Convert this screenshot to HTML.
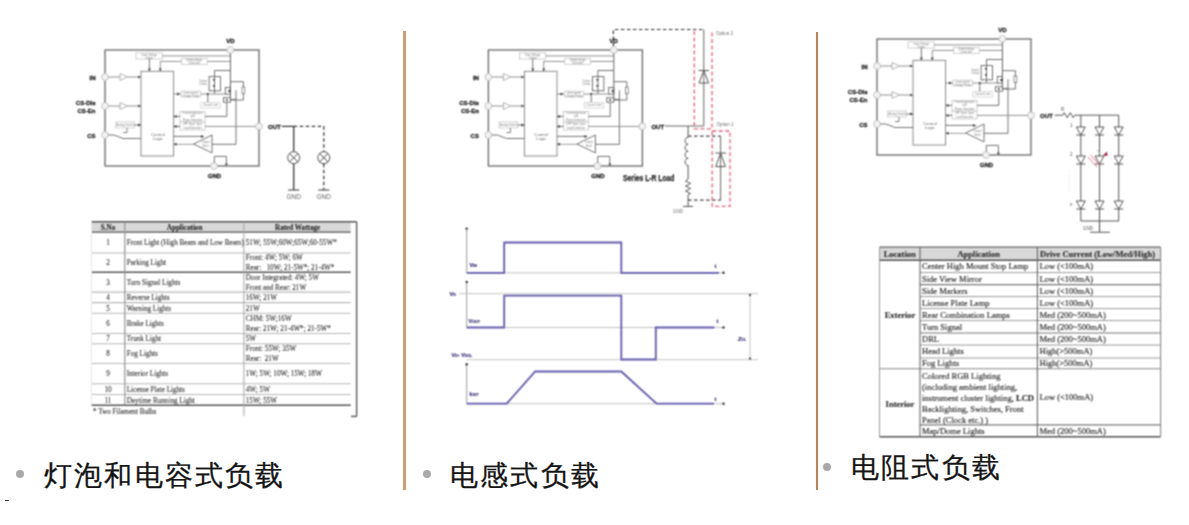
<!DOCTYPE html><html><head><meta charset="utf-8"><style>html,body{margin:0;padding:0;background:#fff;width:1189px;height:525px;overflow:hidden}.cap{position:absolute;font-family:'Liberation Sans', sans-serif;font-size:27.6px;letter-spacing:2.2px;color:#151515;white-space:nowrap;line-height:1;-webkit-text-stroke:0.3px #151515}.dot{position:absolute;width:8px;height:8px;border-radius:50%;background:#a9a9a9}.sep{position:absolute;background:#d29c6c}</style></head><body>
<svg width="1189" height="525" viewBox="0 0 1189 525" style="position:absolute;left:0;top:0">
<defs><filter id="soft" x="0" y="0" width="1189" height="525" filterUnits="userSpaceOnUse" color-interpolation-filters="sRGB"><feConvolveMatrix order="3" kernelMatrix="1 2 1 2 4 2 1 2 1" divisor="16" edgeMode="none"/></filter></defs><g filter="url(#soft)"><rect width="1189" height="525" fill="#fff"/>
<g transform="translate(105,50)"><rect x="0" y="0" width="154" height="116" fill="none" stroke="#6c6c6c" stroke-width="1.35"/><circle cx="125.4" cy="0" r="3.4" fill="#f3f3f3" stroke="#bdbdbd" stroke-width="0.9"/><circle cx="0" cy="27" r="3.4" fill="#f3f3f3" stroke="#bdbdbd" stroke-width="0.9"/><circle cx="0" cy="56" r="3.4" fill="#f3f3f3" stroke="#bdbdbd" stroke-width="0.9"/><circle cx="0" cy="85" r="3.4" fill="#f3f3f3" stroke="#bdbdbd" stroke-width="0.9"/><circle cx="154" cy="76.4" r="3.4" fill="#f3f3f3" stroke="#bdbdbd" stroke-width="0.9"/><circle cx="109" cy="116" r="3.4" fill="#f3f3f3" stroke="#bdbdbd" stroke-width="0.9"/><g font-family="'Liberation Sans', sans-serif" font-weight="bold" font-size="6" fill="#222" stroke="#222" stroke-width="0.3"><text x="125.4" y="-7" text-anchor="middle">VD</text><text x="-9.5" y="29.5" text-anchor="end">IN</text><text x="-9.5" y="55" text-anchor="end">CS-Dis</text><text x="-9.5" y="63" text-anchor="end">CS-En</text><text x="-9.5" y="88" text-anchor="end">CS</text><text x="163" y="78.6">OUT</text><text x="109.5" y="128" text-anchor="middle">GND</text></g><line x1="3.3" y1="27" x2="15" y2="27" stroke="#858585" stroke-width="0.9"/><line x1="22.5" y1="27" x2="36" y2="27" stroke="#858585" stroke-width="0.9"/><path d="M15 23.6 L22.5 27 L15 30.4 Z" fill="#fff" stroke="#a0a0a0" stroke-width="0.8"/><path d="M33 25.5 L36 27 L33 28.5 Z" fill="#555"/><line x1="3.3" y1="56" x2="15" y2="56" stroke="#858585" stroke-width="0.9"/><line x1="22.5" y1="56" x2="36" y2="56" stroke="#858585" stroke-width="0.9"/><path d="M15 52.6 L22.5 56 L15 59.4 Z" fill="#fff" stroke="#a0a0a0" stroke-width="0.8"/><path d="M33 54.5 L36 56 L33 57.5 Z" fill="#555"/><rect x="36" y="21.3" width="32.6" height="84.7" fill="#fff" stroke="#858585" stroke-width="0.95"/><g font-family="'Liberation Sans', sans-serif" font-size="4.3" fill="#707070" text-anchor="middle"><text x="52.9" y="85.5">Control</text><text x="52.9" y="90.3">Logic</text></g><rect x="31" y="2.8" width="26.3" height="6.2" fill="#fff" stroke="#c4c4c4" stroke-width="0.8"/><line x1="57.3" y1="5.9" x2="125.4" y2="5.9" stroke="#858585" stroke-width="0.9"/><line x1="44.4" y1="9" x2="44.4" y2="21.3" stroke="#656565" stroke-width="0.9"/><path d="M42.9 18.5 L44.4 21.3 L45.9 18.5Z" fill="#444"/><path d="M55.3 21.3 V11.4 H125.4" fill="none" stroke="#858585" stroke-width="0.9"/><path d="M53.8 18.5 L55.3 21.3 L56.8 18.5Z" fill="#444"/><rect x="76.4" y="8.6" width="25.8" height="5.7" fill="#fff" stroke="#c4c4c4" stroke-width="0.8"/><line x1="125.4" y1="3.3" x2="125.4" y2="50" stroke="#656565" stroke-width="1"/><path d="M125.4 20.5 H109.5 V44" fill="none" stroke="#656565" stroke-width="0.9"/><rect x="104.1" y="26.6" width="11.4" height="14.2" fill="none" stroke="#656565" stroke-width="0.9"/><path d="M107.5 29 L109 31.5 L110.5 29Z M107.5 35 L109 37.5 L110.5 35Z" fill="#555"/><line x1="68.6" y1="44" x2="120.3" y2="44" stroke="#858585" stroke-width="0.9"/><rect x="75.9" y="41.2" width="19.4" height="5.7" fill="#fff" stroke="#c4c4c4" stroke-width="0.8"/><path d="M72 42.5 L75 44 L72 45.5Z" fill="#444"/><line x1="102.8" y1="44" x2="102.8" y2="52.6" stroke="#656565" stroke-width="0.9"/><circle cx="102.8" cy="44" r="1.1" fill="#444"/><rect x="95.9" y="52.6" width="19.4" height="5.4" fill="#fff" stroke="#d0d0d0" stroke-width="0.8"/><path d="M125.4 31.7 H138.4 V50 H125.4" fill="none" stroke="#656565" stroke-width="0.9"/><rect x="137" y="37" width="2.8" height="6.5" fill="#fff" stroke="#656565" stroke-width="0.7"/><rect x="120.3" y="37.4" width="5.1" height="6.8" fill="none" stroke="#656565" stroke-width="0.9"/><circle cx="124.4" cy="41" r="1.2" fill="#444"/><rect x="118.4" y="47.7" width="7" height="4.5" fill="#fff" stroke="#656565" stroke-width="0.9"/><circle cx="121.8" cy="50" r="1" fill="#444"/><path d="M131 40.3 V94.3 M125.4 49.4 H131" fill="none" stroke="#656565" stroke-width="0.9"/><rect x="75" y="61.4" width="25" height="10.6" fill="#fff" stroke="#c4c4c4" stroke-width="0.8"/><rect x="75" y="72" width="25" height="8" fill="#fff" stroke="#c4c4c4" stroke-width="0.8"/><path d="M100 66.4 H121.8 V52.2" fill="none" stroke="#656565" stroke-width="0.9"/><line x1="100" y1="76.4" x2="150.7" y2="76.4" stroke="#858585" stroke-width="0.9"/><line x1="68.6" y1="66.4" x2="75" y2="66.4" stroke="#656565" stroke-width="0.9"/><line x1="68.6" y1="76.4" x2="75" y2="76.4" stroke="#656565" stroke-width="0.9"/><path d="M71.6 64.9 L68.6 66.4 L71.6 67.9Z M71.6 74.9 L68.6 76.4 L71.6 77.9Z" fill="#444"/><path d="M107 85 V102.9 L88.6 94 Z" fill="#fff" stroke="#656565" stroke-width="0.9"/><path d="M131 94.3 H107" fill="none" stroke="#656565" stroke-width="0.9"/><path d="M68.6 86.4 H99" fill="none" stroke="#656565" stroke-width="0.9"/><path d="M96 84.9 L99 86.4 L96 87.9Z" fill="#444"/><path d="M68.6 94.3 H88.6" fill="none" stroke="#858585" stroke-width="0.8"/><path d="M71.6 92.8 L68.6 94.3 L71.6 95.8Z" fill="#444"/><path d="M109.3 112.7 V106.4 H121.4 V116" fill="none" stroke="#656565" stroke-width="0.9"/><path d="M119.9 113.5 L121.4 116 L122.9 113.5Z" fill="#444"/><rect x="10.7" y="72" width="18.6" height="5.9" fill="#fff" stroke="#c4c4c4" stroke-width="0.8"/><line x1="29.3" y1="75" x2="36" y2="75" stroke="#656565" stroke-width="0.9"/><path d="M33 73.5 L36 75 L33 76.5Z" fill="#444"/><path d="M22 77.9 V82.5 H18" fill="none" stroke="#656565" stroke-width="0.8"/><path d="M3.3 85 H9 L18 88.5 H36" fill="none" stroke="#656565" stroke-width="0.9"/><g font-family="'Liberation Sans', sans-serif" font-size="2.7" fill="#858585" text-anchor="middle"><text x="44.2" y="5.7">Gate Voltage</text><text x="44.2" y="8.5">Clamp</text><text x="89.3" y="11.2">Undervoltage</text><text x="89.3" y="13.9">Detection</text><text x="98" y="32.4">Output</text><text x="98" y="35.4">Clamp</text><text x="85.6" y="43.9">Overcurrent</text><text x="85.6" y="46.6">Charge Pump</text><text x="105.6" y="56.3">Current Limit</text><text x="87.5" y="64.2">Overtemperature</text><text x="87.5" y="67.3">and</text><text x="87.5" y="70.8">Power Detection</text><text x="87.5" y="75.4">OFF State Open</text><text x="87.5" y="78.9">Load Detection</text><text x="100.5" y="93.3">Output</text><text x="100.5" y="96.6">Short</text><text x="20" y="75.8">Analog Switch</text></g></g>
<g transform="translate(488.4,50)"><rect x="0" y="0" width="154" height="116" fill="none" stroke="#6c6c6c" stroke-width="1.35"/><circle cx="125.4" cy="0" r="3.4" fill="#f3f3f3" stroke="#bdbdbd" stroke-width="0.9"/><circle cx="0" cy="27" r="3.4" fill="#f3f3f3" stroke="#bdbdbd" stroke-width="0.9"/><circle cx="0" cy="56" r="3.4" fill="#f3f3f3" stroke="#bdbdbd" stroke-width="0.9"/><circle cx="0" cy="85" r="3.4" fill="#f3f3f3" stroke="#bdbdbd" stroke-width="0.9"/><circle cx="154" cy="76.4" r="3.4" fill="#f3f3f3" stroke="#bdbdbd" stroke-width="0.9"/><circle cx="109" cy="116" r="3.4" fill="#f3f3f3" stroke="#bdbdbd" stroke-width="0.9"/><g font-family="'Liberation Sans', sans-serif" font-weight="bold" font-size="6" fill="#222" stroke="#222" stroke-width="0.3"><text x="125.4" y="-7" text-anchor="middle">VD</text><text x="-9.5" y="29.5" text-anchor="end">IN</text><text x="-9.5" y="55" text-anchor="end">CS-Dis</text><text x="-9.5" y="63" text-anchor="end">CS-En</text><text x="-9.5" y="88" text-anchor="end">CS</text><text x="163" y="78.6">OUT</text><text x="109.5" y="128" text-anchor="middle">GND</text></g><line x1="3.3" y1="27" x2="15" y2="27" stroke="#858585" stroke-width="0.9"/><line x1="22.5" y1="27" x2="36" y2="27" stroke="#858585" stroke-width="0.9"/><path d="M15 23.6 L22.5 27 L15 30.4 Z" fill="#fff" stroke="#a0a0a0" stroke-width="0.8"/><path d="M33 25.5 L36 27 L33 28.5 Z" fill="#555"/><line x1="3.3" y1="56" x2="15" y2="56" stroke="#858585" stroke-width="0.9"/><line x1="22.5" y1="56" x2="36" y2="56" stroke="#858585" stroke-width="0.9"/><path d="M15 52.6 L22.5 56 L15 59.4 Z" fill="#fff" stroke="#a0a0a0" stroke-width="0.8"/><path d="M33 54.5 L36 56 L33 57.5 Z" fill="#555"/><rect x="36" y="21.3" width="32.6" height="84.7" fill="#fff" stroke="#858585" stroke-width="0.95"/><g font-family="'Liberation Sans', sans-serif" font-size="4.3" fill="#707070" text-anchor="middle"><text x="52.9" y="85.5">Control</text><text x="52.9" y="90.3">Logic</text></g><rect x="31" y="2.8" width="26.3" height="6.2" fill="#fff" stroke="#c4c4c4" stroke-width="0.8"/><line x1="57.3" y1="5.9" x2="125.4" y2="5.9" stroke="#858585" stroke-width="0.9"/><line x1="44.4" y1="9" x2="44.4" y2="21.3" stroke="#656565" stroke-width="0.9"/><path d="M42.9 18.5 L44.4 21.3 L45.9 18.5Z" fill="#444"/><path d="M55.3 21.3 V11.4 H125.4" fill="none" stroke="#858585" stroke-width="0.9"/><path d="M53.8 18.5 L55.3 21.3 L56.8 18.5Z" fill="#444"/><rect x="76.4" y="8.6" width="25.8" height="5.7" fill="#fff" stroke="#c4c4c4" stroke-width="0.8"/><line x1="125.4" y1="3.3" x2="125.4" y2="50" stroke="#656565" stroke-width="1"/><path d="M125.4 20.5 H109.5 V44" fill="none" stroke="#656565" stroke-width="0.9"/><rect x="104.1" y="26.6" width="11.4" height="14.2" fill="none" stroke="#656565" stroke-width="0.9"/><path d="M107.5 29 L109 31.5 L110.5 29Z M107.5 35 L109 37.5 L110.5 35Z" fill="#555"/><line x1="68.6" y1="44" x2="120.3" y2="44" stroke="#858585" stroke-width="0.9"/><rect x="75.9" y="41.2" width="19.4" height="5.7" fill="#fff" stroke="#c4c4c4" stroke-width="0.8"/><path d="M72 42.5 L75 44 L72 45.5Z" fill="#444"/><line x1="102.8" y1="44" x2="102.8" y2="52.6" stroke="#656565" stroke-width="0.9"/><circle cx="102.8" cy="44" r="1.1" fill="#444"/><rect x="95.9" y="52.6" width="19.4" height="5.4" fill="#fff" stroke="#d0d0d0" stroke-width="0.8"/><path d="M125.4 31.7 H138.4 V50 H125.4" fill="none" stroke="#656565" stroke-width="0.9"/><rect x="137" y="37" width="2.8" height="6.5" fill="#fff" stroke="#656565" stroke-width="0.7"/><rect x="120.3" y="37.4" width="5.1" height="6.8" fill="none" stroke="#656565" stroke-width="0.9"/><circle cx="124.4" cy="41" r="1.2" fill="#444"/><rect x="118.4" y="47.7" width="7" height="4.5" fill="#fff" stroke="#656565" stroke-width="0.9"/><circle cx="121.8" cy="50" r="1" fill="#444"/><path d="M131 40.3 V94.3 M125.4 49.4 H131" fill="none" stroke="#656565" stroke-width="0.9"/><rect x="75" y="61.4" width="25" height="10.6" fill="#fff" stroke="#c4c4c4" stroke-width="0.8"/><rect x="75" y="72" width="25" height="8" fill="#fff" stroke="#c4c4c4" stroke-width="0.8"/><path d="M100 66.4 H121.8 V52.2" fill="none" stroke="#656565" stroke-width="0.9"/><line x1="100" y1="76.4" x2="150.7" y2="76.4" stroke="#858585" stroke-width="0.9"/><line x1="68.6" y1="66.4" x2="75" y2="66.4" stroke="#656565" stroke-width="0.9"/><line x1="68.6" y1="76.4" x2="75" y2="76.4" stroke="#656565" stroke-width="0.9"/><path d="M71.6 64.9 L68.6 66.4 L71.6 67.9Z M71.6 74.9 L68.6 76.4 L71.6 77.9Z" fill="#444"/><path d="M107 85 V102.9 L88.6 94 Z" fill="#fff" stroke="#656565" stroke-width="0.9"/><path d="M131 94.3 H107" fill="none" stroke="#656565" stroke-width="0.9"/><path d="M68.6 86.4 H99" fill="none" stroke="#656565" stroke-width="0.9"/><path d="M96 84.9 L99 86.4 L96 87.9Z" fill="#444"/><path d="M68.6 94.3 H88.6" fill="none" stroke="#858585" stroke-width="0.8"/><path d="M71.6 92.8 L68.6 94.3 L71.6 95.8Z" fill="#444"/><path d="M109.3 112.7 V106.4 H121.4 V116" fill="none" stroke="#656565" stroke-width="0.9"/><path d="M119.9 113.5 L121.4 116 L122.9 113.5Z" fill="#444"/><rect x="10.7" y="72" width="18.6" height="5.9" fill="#fff" stroke="#c4c4c4" stroke-width="0.8"/><line x1="29.3" y1="75" x2="36" y2="75" stroke="#656565" stroke-width="0.9"/><path d="M33 73.5 L36 75 L33 76.5Z" fill="#444"/><path d="M22 77.9 V82.5 H18" fill="none" stroke="#656565" stroke-width="0.8"/><path d="M3.3 85 H9 L18 88.5 H36" fill="none" stroke="#656565" stroke-width="0.9"/><g font-family="'Liberation Sans', sans-serif" font-size="2.7" fill="#858585" text-anchor="middle"><text x="44.2" y="5.7">Gate Voltage</text><text x="44.2" y="8.5">Clamp</text><text x="89.3" y="11.2">Undervoltage</text><text x="89.3" y="13.9">Detection</text><text x="98" y="32.4">Output</text><text x="98" y="35.4">Clamp</text><text x="85.6" y="43.9">Overcurrent</text><text x="85.6" y="46.6">Charge Pump</text><text x="105.6" y="56.3">Current Limit</text><text x="87.5" y="64.2">Overtemperature</text><text x="87.5" y="67.3">and</text><text x="87.5" y="70.8">Power Detection</text><text x="87.5" y="75.4">OFF State Open</text><text x="87.5" y="78.9">Load Detection</text><text x="100.5" y="93.3">Output</text><text x="100.5" y="96.6">Short</text><text x="20" y="75.8">Analog Switch</text></g></g>
<g transform="translate(877,39)"><rect x="0" y="0" width="154" height="116" fill="none" stroke="#6c6c6c" stroke-width="1.35"/><circle cx="125.4" cy="0" r="3.4" fill="#f3f3f3" stroke="#bdbdbd" stroke-width="0.9"/><circle cx="0" cy="27" r="3.4" fill="#f3f3f3" stroke="#bdbdbd" stroke-width="0.9"/><circle cx="0" cy="56" r="3.4" fill="#f3f3f3" stroke="#bdbdbd" stroke-width="0.9"/><circle cx="0" cy="85" r="3.4" fill="#f3f3f3" stroke="#bdbdbd" stroke-width="0.9"/><circle cx="154" cy="76.4" r="3.4" fill="#f3f3f3" stroke="#bdbdbd" stroke-width="0.9"/><circle cx="109" cy="116" r="3.4" fill="#f3f3f3" stroke="#bdbdbd" stroke-width="0.9"/><g font-family="'Liberation Sans', sans-serif" font-weight="bold" font-size="6" fill="#222" stroke="#222" stroke-width="0.3"><text x="125.4" y="-7" text-anchor="middle">VD</text><text x="-9.5" y="29.5" text-anchor="end">IN</text><text x="-9.5" y="55" text-anchor="end">CS-Dis</text><text x="-9.5" y="63" text-anchor="end">CS-En</text><text x="-9.5" y="88" text-anchor="end">CS</text><text x="163" y="78.6">OUT</text><text x="109.5" y="128" text-anchor="middle">GND</text></g><line x1="3.3" y1="27" x2="15" y2="27" stroke="#858585" stroke-width="0.9"/><line x1="22.5" y1="27" x2="36" y2="27" stroke="#858585" stroke-width="0.9"/><path d="M15 23.6 L22.5 27 L15 30.4 Z" fill="#fff" stroke="#a0a0a0" stroke-width="0.8"/><path d="M33 25.5 L36 27 L33 28.5 Z" fill="#555"/><line x1="3.3" y1="56" x2="15" y2="56" stroke="#858585" stroke-width="0.9"/><line x1="22.5" y1="56" x2="36" y2="56" stroke="#858585" stroke-width="0.9"/><path d="M15 52.6 L22.5 56 L15 59.4 Z" fill="#fff" stroke="#a0a0a0" stroke-width="0.8"/><path d="M33 54.5 L36 56 L33 57.5 Z" fill="#555"/><rect x="36" y="21.3" width="32.6" height="84.7" fill="#fff" stroke="#858585" stroke-width="0.95"/><g font-family="'Liberation Sans', sans-serif" font-size="4.3" fill="#707070" text-anchor="middle"><text x="52.9" y="85.5">Control</text><text x="52.9" y="90.3">Logic</text></g><rect x="31" y="2.8" width="26.3" height="6.2" fill="#fff" stroke="#c4c4c4" stroke-width="0.8"/><line x1="57.3" y1="5.9" x2="125.4" y2="5.9" stroke="#858585" stroke-width="0.9"/><line x1="44.4" y1="9" x2="44.4" y2="21.3" stroke="#656565" stroke-width="0.9"/><path d="M42.9 18.5 L44.4 21.3 L45.9 18.5Z" fill="#444"/><path d="M55.3 21.3 V11.4 H125.4" fill="none" stroke="#858585" stroke-width="0.9"/><path d="M53.8 18.5 L55.3 21.3 L56.8 18.5Z" fill="#444"/><rect x="76.4" y="8.6" width="25.8" height="5.7" fill="#fff" stroke="#c4c4c4" stroke-width="0.8"/><line x1="125.4" y1="3.3" x2="125.4" y2="50" stroke="#656565" stroke-width="1"/><path d="M125.4 20.5 H109.5 V44" fill="none" stroke="#656565" stroke-width="0.9"/><rect x="104.1" y="26.6" width="11.4" height="14.2" fill="none" stroke="#656565" stroke-width="0.9"/><path d="M107.5 29 L109 31.5 L110.5 29Z M107.5 35 L109 37.5 L110.5 35Z" fill="#555"/><line x1="68.6" y1="44" x2="120.3" y2="44" stroke="#858585" stroke-width="0.9"/><rect x="75.9" y="41.2" width="19.4" height="5.7" fill="#fff" stroke="#c4c4c4" stroke-width="0.8"/><path d="M72 42.5 L75 44 L72 45.5Z" fill="#444"/><line x1="102.8" y1="44" x2="102.8" y2="52.6" stroke="#656565" stroke-width="0.9"/><circle cx="102.8" cy="44" r="1.1" fill="#444"/><rect x="95.9" y="52.6" width="19.4" height="5.4" fill="#fff" stroke="#d0d0d0" stroke-width="0.8"/><path d="M125.4 31.7 H138.4 V50 H125.4" fill="none" stroke="#656565" stroke-width="0.9"/><rect x="137" y="37" width="2.8" height="6.5" fill="#fff" stroke="#656565" stroke-width="0.7"/><rect x="120.3" y="37.4" width="5.1" height="6.8" fill="none" stroke="#656565" stroke-width="0.9"/><circle cx="124.4" cy="41" r="1.2" fill="#444"/><rect x="118.4" y="47.7" width="7" height="4.5" fill="#fff" stroke="#656565" stroke-width="0.9"/><circle cx="121.8" cy="50" r="1" fill="#444"/><path d="M131 40.3 V94.3 M125.4 49.4 H131" fill="none" stroke="#656565" stroke-width="0.9"/><rect x="75" y="61.4" width="25" height="10.6" fill="#fff" stroke="#c4c4c4" stroke-width="0.8"/><rect x="75" y="72" width="25" height="8" fill="#fff" stroke="#c4c4c4" stroke-width="0.8"/><path d="M100 66.4 H121.8 V52.2" fill="none" stroke="#656565" stroke-width="0.9"/><line x1="100" y1="76.4" x2="150.7" y2="76.4" stroke="#858585" stroke-width="0.9"/><line x1="68.6" y1="66.4" x2="75" y2="66.4" stroke="#656565" stroke-width="0.9"/><line x1="68.6" y1="76.4" x2="75" y2="76.4" stroke="#656565" stroke-width="0.9"/><path d="M71.6 64.9 L68.6 66.4 L71.6 67.9Z M71.6 74.9 L68.6 76.4 L71.6 77.9Z" fill="#444"/><path d="M107 85 V102.9 L88.6 94 Z" fill="#fff" stroke="#656565" stroke-width="0.9"/><path d="M131 94.3 H107" fill="none" stroke="#656565" stroke-width="0.9"/><path d="M68.6 86.4 H99" fill="none" stroke="#656565" stroke-width="0.9"/><path d="M96 84.9 L99 86.4 L96 87.9Z" fill="#444"/><path d="M68.6 94.3 H88.6" fill="none" stroke="#858585" stroke-width="0.8"/><path d="M71.6 92.8 L68.6 94.3 L71.6 95.8Z" fill="#444"/><path d="M109.3 112.7 V106.4 H121.4 V116" fill="none" stroke="#656565" stroke-width="0.9"/><path d="M119.9 113.5 L121.4 116 L122.9 113.5Z" fill="#444"/><rect x="10.7" y="72" width="18.6" height="5.9" fill="#fff" stroke="#c4c4c4" stroke-width="0.8"/><line x1="29.3" y1="75" x2="36" y2="75" stroke="#656565" stroke-width="0.9"/><path d="M33 73.5 L36 75 L33 76.5Z" fill="#444"/><path d="M22 77.9 V82.5 H18" fill="none" stroke="#656565" stroke-width="0.8"/><path d="M3.3 85 H9 L18 88.5 H36" fill="none" stroke="#656565" stroke-width="0.9"/><g font-family="'Liberation Sans', sans-serif" font-size="2.7" fill="#858585" text-anchor="middle"><text x="44.2" y="5.7">Gate Voltage</text><text x="44.2" y="8.5">Clamp</text><text x="89.3" y="11.2">Undervoltage</text><text x="89.3" y="13.9">Detection</text><text x="98" y="32.4">Output</text><text x="98" y="35.4">Clamp</text><text x="85.6" y="43.9">Overcurrent</text><text x="85.6" y="46.6">Charge Pump</text><text x="105.6" y="56.3">Current Limit</text><text x="87.5" y="64.2">Overtemperature</text><text x="87.5" y="67.3">and</text><text x="87.5" y="70.8">Power Detection</text><text x="87.5" y="75.4">OFF State Open</text><text x="87.5" y="78.9">Load Detection</text><text x="100.5" y="93.3">Output</text><text x="100.5" y="96.6">Short</text><text x="20" y="75.8">Analog Switch</text></g></g>
<g stroke="#3a3a3a" stroke-width="1.3" fill="none">
<path d="M281.7 126.4 H293.7 V151.7 M293.7 163.7 V190"/>
<path d="M293.7 126.4 H323.8 V151.7 M323.8 163.7 V190" stroke-dasharray="3.5 2.5"/>
<circle cx="293.7" cy="157.7" r="6" stroke="#555" stroke-width="1"/>
<path d="M289.5 153.5 L297.9 161.9 M297.9 153.5 L289.5 161.9" stroke="#444" stroke-width="1"/>
<line x1="288.2" y1="190" x2="299.2" y2="190" stroke="#555" stroke-width="1.2"/>
<circle cx="323.8" cy="157.7" r="6" stroke="#555" stroke-width="1"/>
<path d="M319.6 153.5 L328.0 161.9 M328.0 153.5 L319.6 161.9" stroke="#444" stroke-width="1"/>
<line x1="318.3" y1="190" x2="329.3" y2="190" stroke="#555" stroke-width="1.2"/>
</g>
<g font-family="'Liberation Sans', sans-serif" font-size="6.5" fill="#666" text-anchor="middle"><text x="293.7" y="199">GND</text><text x="323.8" y="199">GND</text></g>
<g fill="none" stroke-width="1.2">
<path d="M613.4 46 V29.5 H703.8" stroke="#333" stroke-dasharray="3.5 2.5"/>
<path d="M703.8 29.5 V126 H665" stroke="#666" stroke-width="1"/>
<path d="M699 83 L703.8 70.5 L708.6 83 Z M698.5 70.5 H709" stroke="#555" stroke-width="1"/>
<path d="M694.3 31 V128.9 H712 V31" stroke="#e0607a" stroke-dasharray="4 2.5" stroke-width="1.3"/>
<path d="M688.1 126 V137.3" stroke="#555" stroke-width="1"/>
<path d="M688.1 137.3 c-4 0 -4 7 0 7 c-4 0 -4 7 0 7 c-4 0 -4 7 0 7 c-4 0 -4 7.2 0 7.2 V179 l-2.5 2 l5 2.5 l-5 2.5 l5 2.5 l-5 2.5 l5 2.5 l-2.5 1 V206.4" stroke="#555" stroke-width="1"/>
<path d="M683 206.4 H693" stroke="#555" stroke-width="1"/>
<path d="M688.1 136.2 H720.6 M688.1 200.1 H720.6" stroke="#444" stroke-dasharray="3.5 2.5"/>
<path d="M720.6 136.2 V200.1" stroke="#666" stroke-width="1"/>
<path d="M715.8 166.6 L720.6 153 L725.4 166.6 Z M715.3 153 H726" stroke="#555" stroke-width="1"/>
<rect x="712.2" y="131" width="17.8" height="75.4" stroke="#e0607a" stroke-dasharray="4 2.5" stroke-width="1.3"/>
</g>
<g font-family="'Liberation Sans', sans-serif" font-size="4.5" fill="#707070"><text x="716" y="35.2">Option 2</text><text x="716.4" y="125.6">Option 1</text><text x="673" y="212.5">GND</text></g>
<text x="623" y="180.8" font-family="'Liberation Sans', sans-serif" font-weight="bold" font-size="8.6" fill="#222" stroke="#222" stroke-width="0.25" textLength="51.5" lengthAdjust="spacingAndGlyphs">Series L-R Load</text>
<g fill="none" stroke="#555" stroke-width="1">
<path d="M1054.7 115.2 H1062.7 l1.5 -2.5 l3 5 l3 -5 l3 5 l1.5 -2.5 H1118.7"/>
<path d="M1080.8 115.2 V221"/>
<path d="M1076.3 127 L1080.8 135 L1085.3 127 Z M1076.3 135 H1085.3" fill="#fff"/>
<path d="M1076.3 156 L1080.8 164 L1085.3 156 Z M1076.3 164 H1085.3" fill="#fff"/>
<path d="M1076.3 201 L1080.8 209 L1085.3 201 Z M1076.3 209 H1085.3" fill="#fff"/>
<path d="M1099.5 115.2 V221"/>
<path d="M1095.0 127 L1099.5 135 L1104.0 127 Z M1095.0 135 H1104.0" fill="#fff"/>
<path d="M1095.0 156 L1099.5 164 L1104.0 156 Z M1095.0 164 H1104.0" fill="#fff"/>
<path d="M1095.0 201 L1099.5 209 L1104.0 201 Z M1095.0 209 H1104.0" fill="#fff"/>
<path d="M1118.7 115.2 V221"/>
<path d="M1114.2 127 L1118.7 135 L1123.2 127 Z M1114.2 135 H1123.2" fill="#fff"/>
<path d="M1114.2 156 L1118.7 164 L1123.2 156 Z M1114.2 164 H1123.2" fill="#fff"/>
<path d="M1114.2 201 L1118.7 209 L1123.2 201 Z M1114.2 209 H1123.2" fill="#fff"/>
<path d="M1080.8 221 H1118.7 M1099.5 221 V232.3 M1090.2 232.3 H1109.8" stroke-width="1.1"/>
<path d="M1069 170 V191" stroke="#ddd" stroke-dasharray="1 1.5"/>
</g>
<path d="M1088 157 L1097 167 M1090.5 155 L1099.5 165" stroke="#e27a90" stroke-width="1" fill="none"/>
<path d="M1097 150 L1100 153" stroke="#999" stroke-width="0.8" fill="none"/>
<path d="M1103 155.5 L1107 151.5 L1107.5 156Z" fill="#a02040"/>
<g font-family="'Liberation Sans', sans-serif" font-size="4.5" fill="#555"><text x="1070" y="127">1</text><text x="1070" y="156">2</text><text x="1070" y="206">n</text><text x="1061" y="111">R</text><text x="1083" y="229.5">GND</text></g>
<line x1="466.7" y1="228.6" x2="466.7" y2="272.8" stroke="#9c9c9c" stroke-width="1"/>
<circle cx="466.7" cy="228.6" r="1.2" fill="#333"/>
<line x1="466.7" y1="272.8" x2="723" y2="272.8" stroke="#c0c0c0" stroke-width="1"/>
<circle cx="723.5" cy="272.8" r="1.2" fill="#333"/>
<line x1="466.7" y1="281.9" x2="466.7" y2="327.5" stroke="#9c9c9c" stroke-width="1"/>
<circle cx="466.7" cy="281.9" r="1.2" fill="#333"/>
<line x1="466.7" y1="327.5" x2="723" y2="327.5" stroke="#c0c0c0" stroke-width="1"/>
<circle cx="723.5" cy="327.5" r="1.2" fill="#333"/>
<line x1="466.7" y1="364.3" x2="466.7" y2="403.7" stroke="#9c9c9c" stroke-width="1"/>
<circle cx="466.7" cy="364.3" r="1.2" fill="#333"/>
<line x1="466.7" y1="403.7" x2="723" y2="403.7" stroke="#c0c0c0" stroke-width="1"/>
<circle cx="723.5" cy="403.7" r="1.2" fill="#333"/>
<line x1="459" y1="293.7" x2="758" y2="293.7" stroke="#c4c4c4" stroke-width="1"/>
<line x1="466.7" y1="359.7" x2="758" y2="359.7" stroke="#c4c4c4" stroke-width="1"/>
<line x1="750" y1="294" x2="750" y2="359.5" stroke="#bdbdbd" stroke-width="0.9"/>
<circle cx="750" cy="295" r="1.1" fill="#333"/><circle cx="750" cy="358.5" r="1.1" fill="#333"/>
<g fill="none" stroke="#6159ab" stroke-width="1.8" stroke-linejoin="miter">
<polyline points="466.7,272.8 504.2,272.8 504.2,242.5 621.3,242.5 621.3,272.8 719,272.8"/>
<polyline points="466.7,327.5 504.2,327.5 504.2,295.6 621.3,295.6 621.3,359.5 655.8,359.5 655.8,327.5 714.3,327.5"/>
<polyline points="466.7,403.7 506.7,403.7 535.2,371.5 621.3,371.5 656.6,403.7 714,403.7"/>
</g>
<g font-family="'Liberation Sans', sans-serif" font-weight="bold" font-size="5.6" fill="#3a3478" stroke="#3a3478" stroke-width="0.2">
<text x="469.5" y="267">V<tspan font-size="3.6">IN</tspan></text>
<text x="468.6" y="323">V<tspan font-size="3.6">OUT</tspan></text>
<text x="469.5" y="395.5">I<tspan font-size="3.6">OUT</tspan></text>
<text x="449.5" y="296">V<tspan font-size="3.6">D</tspan></text>
<text x="451.4" y="357">V<tspan font-size="3.6">D</tspan>- V<tspan font-size="3.6">DCL</tspan></text>
<text x="738" y="340.8" font-style="italic">Z<tspan font-size="3.6">CL</tspan></text>
<text x="714.5" y="268">t</text><text x="716.5" y="323">t</text><text x="714.5" y="400.5">t</text>
</g>
<rect x="91.5" y="221.7" width="259.2" height="10.5" fill="#d8d8d8"/>
<line x1="91.5" y1="232.2" x2="350.7" y2="232.2" stroke="#555" stroke-width="1.3"/>
<line x1="91.5" y1="253" x2="350.7" y2="253" stroke="#b8b8b8" stroke-width="1.1"/>
<line x1="91.5" y1="272.3" x2="350.7" y2="272.3" stroke="#555" stroke-width="1.4"/>
<line x1="91.5" y1="292.1" x2="350.7" y2="292.1" stroke="#b8b8b8" stroke-width="1.1"/>
<line x1="91.5" y1="302.6" x2="350.7" y2="302.6" stroke="#b8b8b8" stroke-width="1.1"/>
<line x1="91.5" y1="313.2" x2="350.7" y2="313.2" stroke="#b8b8b8" stroke-width="1.1"/>
<line x1="91.5" y1="333.5" x2="350.7" y2="333.5" stroke="#b8b8b8" stroke-width="1.1"/>
<line x1="91.5" y1="343.8" x2="350.7" y2="343.8" stroke="#b8b8b8" stroke-width="1.1"/>
<line x1="91.5" y1="363.5" x2="350.7" y2="363.5" stroke="#b8b8b8" stroke-width="1.1"/>
<line x1="91.5" y1="383.7" x2="350.7" y2="383.7" stroke="#b8b8b8" stroke-width="1.1"/>
<line x1="91.5" y1="394.5" x2="350.7" y2="394.5" stroke="#b8b8b8" stroke-width="1.1"/>
<line x1="91.5" y1="405.2" x2="350.7" y2="405.2" stroke="#555" stroke-width="1.4"/>
<line x1="91.5" y1="221.7" x2="356.6" y2="221.7" stroke="#555" stroke-width="1.4"/>
<line x1="91.5" y1="221.7" x2="91.5" y2="404.8" stroke="#e6e6e6" stroke-width="1"/>
<line x1="124.8" y1="221.7" x2="124.8" y2="404.8" stroke="#9a9a9a" stroke-width="1.3"/>
<line x1="243.9" y1="221.7" x2="243.9" y2="416" stroke="#a8a8a8" stroke-width="1.1"/>
<line x1="356.6" y1="221.7" x2="356.6" y2="416.4" stroke="#5a5a5a" stroke-width="1.4"/>
<line x1="351" y1="416.4" x2="356.6" y2="416.4" stroke="#5a5a5a" stroke-width="1.4"/>
<g font-family="'Liberation Serif', serif" font-size="8.2" fill="#333" stroke="#333" stroke-width="0.12" transform="scale(0.87,1)">
<g font-weight="bold" text-anchor="middle" fill="#222"><text x="124.14" y="230">S.No</text><text x="212.18" y="230">Application</text><text x="342.07" y="230">Rated Wattage</text></g>
<text x="124.14" y="245.3" text-anchor="middle">1</text>
<text x="145.63" y="245.3">Front Light (High Beam and Low Beam)</text>
<text x="282.53" y="245.3">51W; 55W;60W;65W;60-55W*</text>
<text x="124.14" y="265.3" text-anchor="middle">2</text>
<text x="145.63" y="265.3">Parking Light</text>
<text x="282.53" y="260.5" xml:space="preserve">Front: 4W; 5W; 6W</text>
<text x="282.53" y="270.1" xml:space="preserve">Rear:   10W; 21-5W*; 21-4W*</text>
<text x="124.14" y="284.9" text-anchor="middle">3</text>
<text x="145.63" y="284.9">Turn Signal Lights</text>
<text x="282.53" y="280.1" xml:space="preserve">Door Integrated: 4W; 5W</text>
<text x="282.53" y="289.7" xml:space="preserve">Front and Rear: 21W</text>
<text x="124.14" y="300.1" text-anchor="middle">4</text>
<text x="145.63" y="300.1">Reverse Lights</text>
<text x="282.53" y="300.1">16W; 21W</text>
<text x="124.14" y="310.6" text-anchor="middle">5</text>
<text x="145.63" y="310.6">Warning Lights</text>
<text x="282.53" y="310.6">21W</text>
<text x="124.14" y="326.1" text-anchor="middle">6</text>
<text x="145.63" y="326.1">Brake Lights</text>
<text x="282.53" y="321.2" xml:space="preserve">CHM: 5W;16W</text>
<text x="282.53" y="330.9" xml:space="preserve">Rear: 21W; 21-4W*; 21-5W*</text>
<text x="124.14" y="341.3" text-anchor="middle">7</text>
<text x="145.63" y="341.3">Trunk Light</text>
<text x="282.53" y="341.3">5W</text>
<text x="124.14" y="356.3" text-anchor="middle">8</text>
<text x="145.63" y="356.3">Fog Lights</text>
<text x="282.53" y="351.5" xml:space="preserve">Front: 55W; 35W</text>
<text x="282.53" y="361.1" xml:space="preserve">Rear:  21W</text>
<text x="124.14" y="376.3" text-anchor="middle">9</text>
<text x="145.63" y="376.3">Interior Lights</text>
<text x="282.53" y="376.3">1W; 5W; 10W; 15W; 18W</text>
<text x="124.14" y="391.8" text-anchor="middle">10</text>
<text x="145.63" y="391.8">License Plate Lights</text>
<text x="282.53" y="391.8">4W; 5W</text>
<text x="124.14" y="402.6" text-anchor="middle">11</text>
<text x="145.63" y="402.6">Daytime Running Light</text>
<text x="282.53" y="402.6">15W; 55W</text>
<text x="106.90" y="414">* Two Filament Bulbs</text>
</g>
<rect x="879.5" y="247.2" width="281.1" height="13" fill="#d8d8d8"/>
<line x1="879.5" y1="247.2" x2="1160.6" y2="247.2" stroke="#666" stroke-width="1.3"/>
<line x1="879.5" y1="260.2" x2="1160.6" y2="260.2" stroke="#555" stroke-width="1.4"/>
<line x1="920" y1="272.6" x2="1160.6" y2="272.6" stroke="#9a9a9a" stroke-width="1"/>
<line x1="920" y1="284.6" x2="1160.6" y2="284.6" stroke="#777" stroke-width="1.2"/>
<line x1="920" y1="296.6" x2="1160.6" y2="296.6" stroke="#9a9a9a" stroke-width="1"/>
<line x1="920" y1="308.6" x2="1160.6" y2="308.6" stroke="#9a9a9a" stroke-width="1"/>
<line x1="920" y1="320.6" x2="1160.6" y2="320.6" stroke="#9a9a9a" stroke-width="1"/>
<line x1="920" y1="333" x2="1160.6" y2="333" stroke="#777" stroke-width="1.2"/>
<line x1="920" y1="345" x2="1160.6" y2="345" stroke="#9a9a9a" stroke-width="1"/>
<line x1="920" y1="358" x2="1160.6" y2="358" stroke="#9a9a9a" stroke-width="1"/>
<line x1="879.5" y1="368.8" x2="1160.6" y2="368.8" stroke="#888" stroke-width="1.1"/>
<line x1="920" y1="424.8" x2="1160.6" y2="424.8" stroke="#777" stroke-width="1.2"/>
<line x1="879.5" y1="436.7" x2="1160.6" y2="436.7" stroke="#555" stroke-width="1.6"/>
<line x1="879.5" y1="247.2" x2="879.5" y2="436.7" stroke="#999" stroke-width="1"/>
<line x1="920" y1="247.2" x2="920" y2="436.7" stroke="#666" stroke-width="1.1"/>
<line x1="1037.4" y1="247.2" x2="1037.4" y2="436.7" stroke="#666" stroke-width="1.1"/>
<line x1="1160.6" y1="247.2" x2="1160.6" y2="436.7" stroke="#888" stroke-width="1.1"/>
<g font-family="'Liberation Serif', serif" font-size="8.5" fill="#333" stroke="#333" stroke-width="0.18">
<g font-weight="bold"><text x="899.7" y="257" text-anchor="middle">Location</text><text x="978.7" y="257" text-anchor="middle">Application</text><text x="1040" y="257">Drive Current (Low/Med/High)</text></g>
<text x="922" y="269.3">Center High Mount Stop Lamp</text><text x="1039.5" y="269.3">Low (&lt;100mA)</text>
<text x="922" y="281.5">Side View Mirror</text><text x="1039.5" y="281.5">Low (&lt;100mA)</text>
<text x="922" y="293.5">Side Markers</text><text x="1039.5" y="293.5">Low (&lt;100mA)</text>
<text x="922" y="305.5">License Plate Lamp</text><text x="1039.5" y="305.5">Low (&lt;100mA)</text>
<text x="922" y="317.5">Rear Combination Lamps</text><text x="1039.5" y="317.5">Med (200~500mA)</text>
<text x="922" y="329.7">Turn Signal</text><text x="1039.5" y="329.7">Med (200~500mA)</text>
<text x="922" y="341.9">DRL</text><text x="1039.5" y="341.9">Med (200~500mA)</text>
<text x="922" y="354.4">Head Lights</text><text x="1039.5" y="354.4">High(&gt;500mA)</text>
<text x="922" y="366.3">Fog Lights</text><text x="1039.5" y="366.3">High(&gt;500mA)</text>
<text x="922" y="378.8">Colored RGB Lighting</text>
<text x="922" y="389.8">(including ambient lighting,</text>
<text x="922" y="400.8">instrument cluster lighting, <tspan font-weight="bold">LCD</tspan></text>
<text x="922" y="411.8">Backlighting, Switches, Front</text>
<text x="922" y="422.8">Panel (Clock etc.) )</text>
<text x="1039.5" y="399.5">Low (&lt;100mA)</text>
<text x="922" y="433.7">Map/Dome Lights</text><text x="1039.5" y="433.7">Med (200~500mA)</text>
<g font-weight="bold" text-anchor="middle"><text x="900" y="318">Exterior</text><text x="900" y="406.5">Interior</text></g>
</g>
</g></svg>
<div class="sep" style="left:403px;top:31px;width:3px;height:459px;background:#cba077;box-shadow:0 0 1.5px #f3dcc0"></div>
<div class="sep" style="left:815.5px;top:32px;width:2px;height:458px;background:#b4845e;box-shadow:0 0 1.5px #f3dcc0"></div>
<div style="position:absolute;left:5px;top:500px;width:3.5px;height:1.2px;background:#333"></div>
<div class="dot" style="left:16px;top:470px"></div>
<div class="dot" style="left:422.5px;top:470px"></div>
<div class="dot" style="left:823px;top:463px"></div>
<div class="cap" style="left:44px;top:462px">灯泡和电容式负载</div>
<div class="cap" style="left:450px;top:462px">电感式负载</div>
<div class="cap" style="left:851px;top:454px">电阻式负载</div>
</body></html>
